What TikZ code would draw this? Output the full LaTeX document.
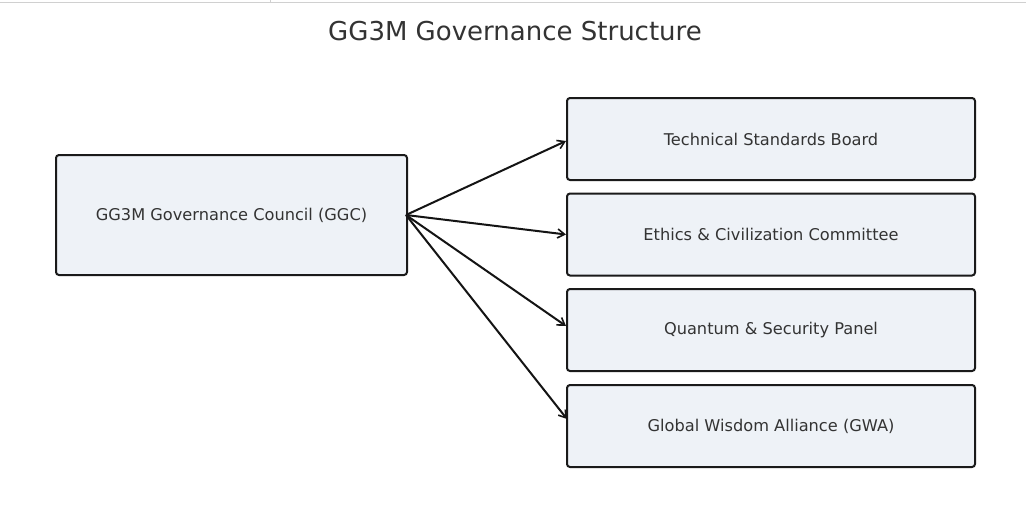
\documentclass[tikz,border=0pt]{standalone}
\usepackage{fontspec}
\setmainfont{DejaVu Sans}
\usetikzlibrary{arrows.meta}
\definecolor{boxfill}{HTML}{EEF2F7}
\definecolor{boxline}{HTML}{1A1A1A}
\definecolor{txt}{HTML}{333333}
\definecolor{topline}{HTML}{D0D0D0}
\begin{document}
\begin{tikzpicture}[x=1pt,y=-1pt,
  unit/.style={draw=boxline, line width=2pt, fill=boxfill, rounded corners=3pt,
    text=txt, font=\fontsize{16.2}{19}\selectfont, inner sep=0pt},
  link/.style={draw=black!92, line width=2pt, -{Straight Barb[length=7pt,width=9pt,line width=1.6pt]}}
  ]
  \useasboundingbox[fill=white] (0,0) rectangle (1026,520);
  % screenshot edge line at the top
  \draw[topline, line width=1pt] (0,2) -- (1026,2);
  \draw[topline, line width=1pt] (270,0) -- (270,2);

  \node[text=txt, font=\fontsize{26}{30}\selectfont] (title) at (515,31) {GG3M Governance Structure};

  \node[unit, minimum width=351pt, minimum height=120pt] (ggc) at (231.5,215) {GG3M Governance Council (GGC)};

  \node[unit, minimum width=408pt, minimum height=82pt] (tsb) at (771,139) {Technical Standards Board};
  \node[unit, minimum width=408pt, minimum height=82pt] (ecc) at (771,234.5) {Ethics \& Civilization Committee};
  \node[unit, minimum width=408pt, minimum height=82pt] (qsp) at (771,330) {Quantum \& Security Panel};
  \node[unit, minimum width=408pt, minimum height=82pt] (gwa) at (771,426) {Global Wisdom Alliance (GWA)};

  \draw[link] ([xshift=-2pt]ggc.east) -- ([yshift=-2pt]tsb.west);
  \draw[link] ([xshift=-2pt]ggc.east) -- (ecc.west);
  \draw[link] ([xshift=-2pt]ggc.east) -- ([yshift=4pt]qsp.west);
  \draw[link] ([xshift=-2pt]ggc.east) -- ([yshift=7pt,xshift=1pt]gwa.west);
\end{tikzpicture}
\end{document}
